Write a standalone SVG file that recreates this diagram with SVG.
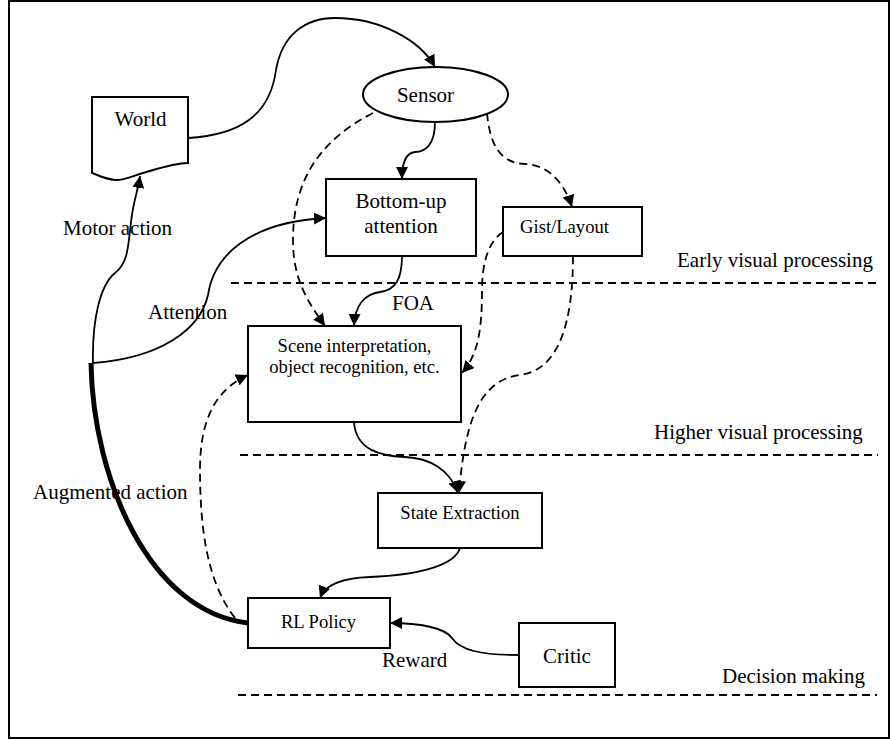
<svg xmlns="http://www.w3.org/2000/svg" width="890" height="740" viewBox="0 0 890 740">
<defs>
<style>
.box{fill:#fff;stroke:#000;stroke-width:2}
text{fill:#000}
.big{font-size:21px}
.sm{font-size:18.6px}
.c{fill:none;stroke:#000;stroke-width:1.8}
.d{stroke-dasharray:8 5}
.sep{fill:none;stroke:#000;stroke-width:2;stroke-dasharray:8 5}
</style>
<marker id="ah" viewBox="0 0 12 12" refX="12" refY="6" markerWidth="12" markerHeight="12" markerUnits="userSpaceOnUse" orient="auto">
<path d="M0,0 L12,6 L0,12 Z" fill="#000"/>
</marker>
</defs>
<rect x="0" y="0" width="890" height="740" fill="#fff"/>
<g font-family="Liberation Serif, Tinos, DejaVu Serif, serif">
<g id="frame">
<path d="M9,1 H889 V738 H9 Z" fill="none" stroke="#000" stroke-width="2"/>
</g>
<g id="layers">
<line class="sep" x1="231" y1="283" x2="880" y2="283"/>
<line class="sep" x1="240" y1="455" x2="878" y2="455"/>
<line class="sep" x1="238" y1="695" x2="877" y2="695"/>
<text class="big" x="677" y="267">Early visual processing</text>
<text class="big" x="654" y="439">Higher visual processing</text>
<text class="big" x="722" y="683">Decision making</text>
</g>
<g id="connectors">
<path class="c" d="M188,138 C240,135 270,115 276,70 C282,35 305,18 335,18 C380,18 420,40 435,67" marker-end="url(#ah)"/>
<path class="c" d="M435,122 C435,145 425,152 415,152 C405,153 402,165 402,179" marker-end="url(#ah)"/>
<path class="c d" d="M487,113 C490,145 500,163 525,164 C550,165 565,185 572,207" marker-end="url(#ah)"/>
<path class="c d" d="M373,113 C320,140 293,180 293,240 C293,280 308,302 325,326" marker-end="url(#ah)"/>
<path class="c" d="M402,256 C402,280 395,290 380,292 C365,294 355,305 354,326" marker-end="url(#ah)"/>
<path class="c" d="M93,363 C160,358 200,330 208,295 C214,255 250,222 326,218" marker-end="url(#ah)"/>
<path class="c" d="M93,363 C92,320 100,285 115,273 C130,262 128,240 132,215 C134,200 138,190 140,176" marker-end="url(#ah)"/>
<path d="M91,363 C93,480 150,612 248,623" fill="none" stroke="#000" stroke-width="5"/>
<path class="c d" d="M235,618 C205,580 200,520 200,470 C200,420 215,390 248,375" marker-end="url(#ah)"/>
<path class="c d" d="M503,232 C490,240 482,260 482,290 C482,330 478,355 462,373" marker-end="url(#ah)"/>
<path class="c d" d="M573,256 C573,320 560,370 520,375 C480,380 465,420 459,493" marker-end="url(#ah)"/>
<path class="c" d="M354,422 C356,450 380,456 405,457 C430,458 450,470 458,493" marker-end="url(#ah)"/>
<path class="c" d="M460,548 C455,565 420,575 370,577 C340,578 325,585 320,598" marker-end="url(#ah)"/>
<path class="c" d="M519,655 C480,655 460,650 452,638 C445,628 420,623 390,623" marker-end="url(#ah)"/>
<text class="big" x="63" y="235">Motor action</text>
<text class="big" x="148" y="319">Attention</text>
<text class="big" x="392" y="310">FOA</text>
<text class="big" x="33" y="499">Augmented action</text>
<text class="big" x="382" y="667">Reward</text>
</g>
<g id="world">
<path class="box" d="M92,97 H188 V163 C175,163 160,168 143,173 C130,177 122,181 115,180 C105,179 98,175 92,173 Z"/>
<text class="big" x="140.5" y="126" text-anchor="middle">World</text>
</g>
<g id="sensor">
<ellipse class="box" cx="435.5" cy="94.5" rx="72.5" ry="27.5"/>
<text class="big" x="425.5" y="102" text-anchor="middle">Sensor</text>
</g>
<g id="bottomup">
<rect class="box" x="326" y="179" width="150" height="77"/>
<text class="big" x="401" y="208" text-anchor="middle">Bottom-up</text>
<text class="big" x="401" y="233" text-anchor="middle">attention</text>
</g>
<g id="gist">
<rect class="box" x="503" y="207" width="139" height="49"/>
<text class="sm" x="564.5" y="233" text-anchor="middle">Gist/Layout</text>
</g>
<g id="scene">
<rect class="box" x="248" y="326" width="213" height="96"/>
<text class="sm" x="354.5" y="352" text-anchor="middle">Scene interpretation,</text>
<text class="sm" x="354.5" y="373" text-anchor="middle">object recognition, etc.</text>
</g>
<g id="state">
<rect class="box" x="378" y="493" width="164" height="55"/>
<text class="sm" x="460" y="519" text-anchor="middle">State Extraction</text>
</g>
<g id="policy">
<rect class="box" x="248" y="598" width="142" height="50"/>
<text class="sm" x="318.5" y="628" text-anchor="middle">RL Policy</text>
</g>
<g id="critic">
<rect class="box" x="519" y="623" width="96" height="64"/>
<text class="big" x="567" y="663" text-anchor="middle">Critic</text>
</g>
</g>
</svg>
